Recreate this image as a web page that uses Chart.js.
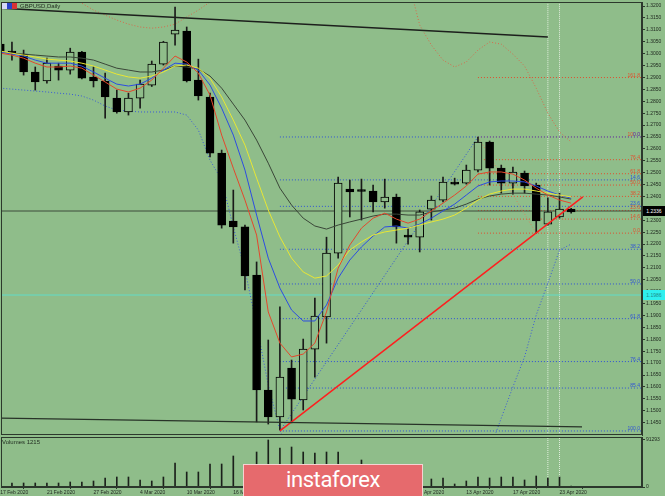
<!DOCTYPE html>
<html>
<head>
<meta charset="utf-8">
<title>GBPUSD Daily</title>
<script src="https://cdn.jsdelivr.net/npm/chart.js@4.4.1/dist/chart.umd.min.js"></script>
<style>
  body { margin:0; width:665px; height:496px; overflow:hidden; background:#8fbd8a; position:relative; font-family:"Liberation Sans", Arial, sans-serif; }
  canvas { position:absolute; left:0; }
  #mainChart { top:0; }
  #volChart { top:436px; }
  .txt { position:absolute; font-size:6px; line-height:6px; color:#1f2a1f; white-space:nowrap; }
  .pbox { position:absolute; left:643px; width:22px; height:10px; font-size:5px; line-height:10px; text-align:center; }
  .flag { position:absolute; top:3px; width:5px; height:6px; }
  #banner { position:absolute; left:243px; top:464px; width:178px; height:31px; background:#e66a6d; border:1px solid #f6d2d2; color:#fff; font-family:Roboto, sans-serif; font-size:22px; line-height:30px; text-align:center; letter-spacing:-0.4px; }
</style>
</head>
<body>
<canvas id="mainChart" width="665" height="436"></canvas>
<canvas id="volChart" width="665" height="60"></canvas>
<div class="flag" style="left:2px;background:#d4daf6;border:0 solid #2844c8"></div>
<div class="flag" style="left:7px;background:#2844c8"></div>
<div class="flag" style="left:12px;background:#d83434"></div>
<div class="txt" style="left:20px;top:3px">GBPUSD,Daily</div>
<div class="txt" style="left:2px;top:439px">Volumes 1215</div>
<div class="pbox" style="top:206px;background:#000;color:#fff">1.2336</div>
<div class="pbox" style="top:290px;background:#2ff0ee;color:#1c8c8c">1.1986</div>
<div id="banner">instaforex</div>

<script>
// GBPUSD daily, 17 Feb 2020 .. 24 Apr 2020 (one entry per trading day)
const candleOpen = [1.3040,1.3011,1.2998,1.2923,1.2885,1.2948,1.2931,1.3007,1.2902,1.2885,
    1.2813,1.2755,1.2813,1.2868,1.2956,1.3082,1.3095,1.2889,1.2818,1.2582,
    1.2297,1.2272,1.2070,1.1587,1.1474,1.1679,1.1545,1.1759,1.1894,1.2162,
    1.2431,1.2423,1.2423,1.2377,1.2398,1.2238,1.2229,1.2347,1.2385,1.2461,
    1.2456,1.2511,1.2629,1.2519,1.2456,1.2498,1.2448,1.2284,1.2314,1.2347];
const candleHigh = [1.3049,1.3049,1.3015,1.2944,1.2981,1.2960,1.3023,1.3010,1.2944,1.2918,
    1.2847,1.2834,1.2889,1.2969,1.3052,1.3196,1.3112,1.2977,1.2834,1.2595,
    1.2427,1.2280,1.2125,1.1797,1.1936,1.1713,1.1801,1.1973,1.2229,1.2482,
    1.2469,1.2473,1.2448,1.2473,1.2410,1.2267,1.2343,1.2402,1.2482,1.2477,
    1.2532,1.2650,1.2633,1.2532,1.2524,1.2507,1.2456,1.2394,1.2414,1.2350];
const candleLow = [1.2994,1.2973,1.2910,1.2847,1.2876,1.2889,1.2914,1.2894,1.2860,1.2729,
    1.2750,1.2742,1.2771,1.2862,1.2952,1.3036,1.2881,1.2805,1.2566,1.2267,
    1.2204,1.2007,1.1453,1.1444,1.1419,1.1449,1.1503,1.1641,1.1784,1.2141,
    1.2314,1.2301,1.2335,1.2351,1.2204,1.2200,1.2167,1.2301,1.2377,1.2448,
    1.2452,1.2503,1.2448,1.2414,1.2410,1.2414,1.2246,1.2280,1.2309,1.2330];
const candleClose = [1.3007,1.3002,1.2923,1.2881,1.2960,1.2931,1.3007,1.2897,1.2885,1.2818,
    1.2755,1.2813,1.2872,1.2956,1.3049,1.3099,1.2885,1.2822,1.2582,1.2280,
    1.2272,1.2066,1.1587,1.1474,1.1641,1.1549,1.1759,1.1898,1.2162,1.2456,
    1.2419,1.2421,1.2377,1.2398,1.2272,1.2229,1.2335,1.2385,1.2461,1.2452,
    1.2511,1.2629,1.2519,1.2456,1.2503,1.2444,1.2297,1.2335,1.2347,1.2335];

// moving averages (red fastest, grey slowest)
const maRed = [1.3002,1.2994,1.2981,1.2960,1.2944,1.2944,1.2948,1.2939,1.2910,1.2881,
    1.2851,1.2839,1.2855,1.2889,1.2939,1.2990,1.2965,1.2918,1.2826,1.2658,
    1.2519,1.2385,1.2238,1.1915,1.1784,1.1726,1.1738,1.1784,1.1915,1.2099,
    1.2196,1.2267,1.2309,1.2330,1.2305,1.2288,1.2305,1.2339,1.2372,1.2406,
    1.2444,1.2494,1.2503,1.2503,1.2494,1.2469,1.2435,1.2406,1.2385,1.2372];
const maBlue = [1.3007,1.2998,1.2990,1.2973,1.2960,1.2960,1.2960,1.2948,1.2923,1.2897,
    1.2872,1.2864,1.2872,1.2897,1.2931,1.2960,1.2956,1.2931,1.2868,1.2771,
    1.2658,1.2511,1.2322,1.2141,1.2015,1.1923,1.1877,1.1877,1.1944,1.2057,
    1.2133,1.2188,1.2234,1.2272,1.2276,1.2267,1.2284,1.2309,1.2339,1.2368,
    1.2406,1.2444,1.2461,1.2465,1.2465,1.2461,1.2444,1.2423,1.2406,1.2393];
const maYellow = [1.3011,1.3002,1.2994,1.2986,1.2977,1.2973,1.2969,1.2960,1.2948,1.2931,
    1.2914,1.2902,1.2897,1.2906,1.2923,1.2948,1.2952,1.2939,1.2897,1.2818,
    1.2721,1.2616,1.2477,1.2343,1.2230,1.2141,1.2083,1.2057,1.2066,1.2112,
    1.2175,1.2209,1.2238,1.2251,1.2259,1.2267,1.2280,1.2293,1.2305,1.2322,
    1.2351,1.2385,1.2410,1.2423,1.2431,1.2431,1.2423,1.2414,1.2406,1.2398];
const maGray = [1.3007,1.3002,1.2998,1.2994,1.2990,1.2986,1.2986,1.2981,1.2973,1.2956,
    1.2939,1.2931,1.2923,1.2923,1.2931,1.2948,1.2944,1.2935,1.2906,1.2855,
    1.2788,1.2721,1.2637,1.2540,1.2435,1.2364,1.2309,1.2276,1.2263,1.2280,
    1.2293,1.2305,1.2318,1.2326,1.2326,1.2322,1.2322,1.2335,1.2343,1.2351,
    1.2368,1.2389,1.2402,1.2410,1.2414,1.2414,1.2410,1.2406,1.2398,1.2389];

// envelope bands (go off the visible range in places)
const bandUpper = [1.3300,1.3300,1.3300,1.3300,1.3300,1.3300,1.3260,1.3212,1.3183,1.3162,
    1.3141,1.3124,1.3112,1.3107,1.3112,1.3124,1.3154,1.3183,1.3217,1.3310,
    1.3400,1.3400,1.3400,1.3400,1.3400,1.3400,1.3400,1.3400,1.3400,1.3400,
    1.3400,1.3400,1.3400,1.3400,1.3400,1.3310,1.3120,1.3036,1.2973,1.2944,
    1.2965,1.3015,1.3049,1.3040,1.2998,1.2948,1.2855,1.2750,1.2671,1.2629];
const bandLower = [1.2855,1.2851,1.2847,1.2843,1.2839,1.2834,1.2830,1.2822,1.2805,1.2780,
    1.2763,1.2759,1.2755,1.2755,1.2755,1.2755,1.2742,1.2679,1.2553,1.2469,
    1.2272,1.2091,1.1860,1.1608,1.1419,1.1300,1.1300,1.1300,1.1300,1.1300,
    1.1300,1.1300,1.1300,1.1300,1.1300,1.1300,1.1300,1.1300,1.1300,1.1300,
    1.1300,1.1300,1.1335,1.1469,1.1600,1.1726,1.1902,1.2036,1.2175,1.2200];

const volumes = [7770,7770,7770,7770,7770,7770,9710,9710,11650,17480,
    19420,19420,13600,11650,19420,46610,29130,29130,44670,44670,
    60200,38840,67970,91293,75740,77680,67970,66030,67970,67970,
    34960,52430,31070,29130,33010,27190,29130,15540,17480,5830,
    11650,19420,17480,19420,19420,13600,21360,17480,19420,1940];

const dateTickIdx = [0,4,8,12,16,20,24,28,32,36,40,44,48];
const dateTicks = ['17 Feb 2020','21 Feb 2020','27 Feb 2020','4 Mar 2020','10 Mar 2020','16 Mar 2020',
    '20 Mar 2020','26 Mar 2020','1 Apr 2020','7 Apr 2020','13 Apr 2020','17 Apr 2020','23 Apr 2020'];
const priceTicks = [1.3200,1.3150,1.3100,1.3050,1.3000,1.2950,1.2900,1.2850,1.2800,1.2750,
    1.2700,1.2650,1.2600,1.2550,1.2500,1.2450,1.2400,1.2350,1.2300,1.2250,
    1.2200,1.2150,1.2100,1.2050,1.2000,1.1950,1.1900,1.1850,1.1800,1.1750,
    1.1700,1.1650,1.1600,1.1550,1.1500,1.1450];
const volTicks = [0, 91293];

// fibonacci: blue from the March low to the April high, red on the last swing
const blueFibPct = [0,14.6,23.6,38.2,50.0,61.8,76.4,85.4,100.0];
const blueFibHigh = 1.2650, blueFibLow = 1.1415, blueFibStart = 24;
const redFibPct = [0.0,14.6,23.6,38.2,50.0,61.8,76.4,100.0,161.8];
const redFibHigh = 1.2650, redFibLow = 1.2246, redFibStart = 41;

// trend lines [index, price]
const topTrend = [[0.06,1.3191],[47.0,1.3070]];
const lowTrend = [[0.06,1.1469],[49.93,1.1432]];
const redTrend = [[24.0,1.1415],[50.0,1.2398]];
const blueFibAnchor = [[24,1.1415],[41,1.2650]];
const redFibAnchor = [[41,1.2650],[46,1.2246]];
const bidPrice = 1.2339;
const askLine = 1.1986;
const markerIdx = [47, 48];

const X_MIN = 0.06, X_MAX = 55.08;
const Y_MIN = 1.1398, Y_MAX = 1.3217;
const VOL_MAX = 97120;
const BG = '#8fbd8a';
const AXIS = '#2c382c';
const FIB_BLUE = '#2f52d6';
const FIB_RED = '#e0502e';

Chart.defaults.font.family = '"Liberation Sans", Arial, sans-serif';

document.addEventListener('DOMContentLoaded', function(){
    drawMain();
    drawVolumes();
});

function blueFibPrice(p){ return blueFibHigh - p / 100 * (blueFibHigh - blueFibLow); }
function redFibPrice(p){ return redFibLow + p / 100 * (redFibHigh - redFibLow); }

function seg(a){
    return a.map(p => ({x: p[0], y: p[1]}));
}

function pts(arr){
    return arr.map((v, i) => ({x: i, y: v}));
}

function lineSet(data, color, width, dash, order){
    return {
        type: 'line',
        data: data,
        borderColor: color,
        borderWidth: width,
        borderDash: dash || [],
        pointRadius: 0,
        fill: false,
        tension: 0,
        order: order
    };
}

const framePlugin = {
    id: 'frame',
    afterDraw(chart){
        const ca = chart.chartArea;
        const ctx = chart.ctx;
        ctx.save();
        ctx.strokeStyle = AXIS;
        ctx.lineWidth = 1;
        ctx.strokeRect(ca.left + 0.5, ca.top + 0.5, ca.right - ca.left - 1, ca.bottom - ca.top - 1);
        ctx.restore();
    }
};

const fibLabelPlugin = {
    id: 'fibLabels',
    afterDatasetsDraw(chart){
        const ctx = chart.ctx;
        const y = chart.scales.y;
        const right = chart.chartArea.right - 2;
        ctx.save();
        ctx.font = '5px "Liberation Sans", Arial, sans-serif';
        ctx.textAlign = 'right';
        ctx.textBaseline = 'alphabetic';
        ctx.fillStyle = FIB_RED;
        redFibPct.forEach(p => {
            ctx.fillText(p.toFixed(1), right, y.getPixelForValue(redFibPrice(p)) - 1);
        });
        ctx.fillStyle = FIB_BLUE;
        blueFibPct.forEach(p => {
            ctx.fillText(p.toFixed(1), right, y.getPixelForValue(blueFibPrice(p)) - 1);
        });
        ctx.restore();
    }
};

function drawMain(){
    const ctx = document.getElementById('mainChart');
    const datasets = [];

    // fibonacci levels
    blueFibPct.forEach(p => {
        const v = blueFibPrice(p);
        datasets.push(lineSet([{x: blueFibStart, y: v}, {x: X_MAX, y: v}], FIB_BLUE, 1, [1, 2], 8));
    });
    redFibPct.forEach(p => {
        const v = redFibPrice(p);
        datasets.push(lineSet([{x: redFibStart, y: v}, {x: X_MAX, y: v}], FIB_RED, 1, [1, 2], 8));
    });
    datasets.push(lineSet(seg(blueFibAnchor), FIB_BLUE, 1, [1, 2], 7));
    datasets.push(lineSet(seg(redFibAnchor), '#d9825a', 1, [1, 2], 7));

    // date markers
    markerIdx.forEach(m => {
        datasets.push(lineSet([{x: m, y: Y_MIN - 0.01}, {x: m, y: Y_MAX + 0.01}], '#e2efdf', 1, [1, 1], 9));
    });

    // bid / ask lines
    datasets.push(lineSet([{x: X_MIN, y: bidPrice}, {x: X_MAX, y: bidPrice}], '#3c4a3a', 1, [], 7));
    datasets.push(lineSet([{x: X_MIN, y: askLine}, {x: X_MAX, y: askLine}], '#62dcc8', 1, [], 7));

    // envelope bands
    datasets.push(lineSet(pts(bandUpper), '#d66a4c', 1, [1, 2], 6));
    datasets.push(lineSet(pts(bandLower), '#3a5ad8', 1, [1, 2], 6));

    // candles: wicks then bodies
    datasets.push({
        type: 'bar',
        data: candleLow.map((l, i) => ({x: i, y: [l, candleHigh[i]]})),
        backgroundColor: '#1a1a1a',
        barThickness: 1,
        grouped: false,
        order: 5
    });
    datasets.push({
        type: 'bar',
        data: candleOpen.map((o, i) => ({x: i, y: [Math.min(o, candleClose[i]), Math.max(o, candleClose[i])]})),
        backgroundColor: candleOpen.map((o, i) => candleClose[i] < o ? '#000000' : BG),
        borderColor: '#000000',
        borderWidth: 1,
        borderSkipped: false,
        barThickness: 8,
        minBarLength: 2,
        grouped: false,
        order: 4
    });

    // moving averages
    datasets.push(lineSet(pts(maGray), '#3a4638', 1, [], 3));
    datasets.push(lineSet(pts(maYellow), '#e8e634', 1, [], 2));
    datasets.push(lineSet(pts(maBlue), '#2c4ce2', 1, [], 2));
    datasets.push(lineSet(pts(maRed), '#e4472c', 1, [], 1));

    // trend lines
    datasets.push(lineSet(seg(topTrend), '#1c1f1c', 1.4, [], 0));
    datasets.push(lineSet(seg(lowTrend), '#283328', 1.4, [], 0));
    datasets.push(lineSet(seg(redTrend), '#ff1e1e', 1.5, [], 0));

    const config = {
        type: 'bar',
        data: {datasets: datasets},
        options: {
            responsive: false,
            animation: false,
            devicePixelRatio: 1,
            events: [],
            layout: {padding: {left: 1, top: 2, right: 0, bottom: 1}},
            plugins: {legend: {display: false}, tooltip: {enabled: false}},
            scales: {
                x: {type: 'linear', display: false, min: X_MIN, max: X_MAX, offset: false},
                y: {
                    type: 'linear',
                    position: 'right',
                    bounds: 'data',
                    min: Y_MIN,
                    max: Y_MAX,
                    afterBuildTicks: s => { s.ticks = priceTicks.map(v => ({value: v})); },
                    afterFit: s => { s.width = 23; s.paddingTop = 0; s.paddingBottom = 0; },
                    ticks: {autoSkip: false, font: {size: 5}, color: '#1e261e', padding: 1,
                        callback: v => v.toFixed(4)},
                    grid: {drawOnChartArea: false, drawTicks: true, tickLength: 3, color: AXIS},
                    border: {display: true, color: AXIS}
                }
            }
        },
        plugins: [framePlugin, fibLabelPlugin]
    };
    new Chart(ctx, config);
}

function drawVolumes(){
    const ctx = document.getElementById('volChart');
    const datasets = [];
    markerIdx.forEach(m => {
        datasets.push(lineSet([{x: m, y: 0}, {x: m, y: VOL_MAX}], '#e2efdf', 1, [1, 1], 2));
    });
    datasets.push({
        type: 'bar',
        data: pts(volumes),
        backgroundColor: '#1b201b',
        barThickness: 1,
        grouped: false,
        order: 1
    });

    const config = {
        type: 'bar',
        data: {datasets: datasets},
        options: {
            responsive: false,
            animation: false,
            devicePixelRatio: 1,
            events: [],
            layout: {padding: {left: 1, top: 1, right: 0, bottom: 0}},
            plugins: {legend: {display: false}, tooltip: {enabled: false}},
            scales: {
                x: {
                    type: 'linear',
                    bounds: 'data',
                    min: X_MIN,
                    max: X_MAX,
                    offset: false,
                    afterBuildTicks: s => { s.ticks = dateTickIdx.map(v => ({value: v})); },
                    afterFit: s => { s.height = 9; s.paddingLeft = 0; s.paddingRight = 0; },
                    ticks: {autoSkip: false, maxRotation: 0, align: 'start', padding: 1,
                        font: {size: 5}, color: '#1e261e',
                        callback: (v, i) => dateTicks[i]},
                    grid: {drawOnChartArea: false, tickLength: 2, color: AXIS},
                    border: {display: true, color: AXIS}
                },
                y: {
                    type: 'linear',
                    position: 'right',
                    bounds: 'data',
                    min: 0,
                    max: VOL_MAX,
                    afterBuildTicks: s => { s.ticks = volTicks.map(v => ({value: v})); },
                    afterFit: s => { s.width = 23; s.paddingTop = 0; s.paddingBottom = 0; },
                    ticks: {autoSkip: false, font: {size: 5}, color: '#1e261e', padding: 1,
                        callback: v => String(v)},
                    grid: {drawOnChartArea: false, tickLength: 3, color: AXIS},
                    border: {display: true, color: AXIS}
                }
            }
        },
        plugins: [framePlugin]
    };
    new Chart(ctx, config);
}
</script>
</body>
</html>
